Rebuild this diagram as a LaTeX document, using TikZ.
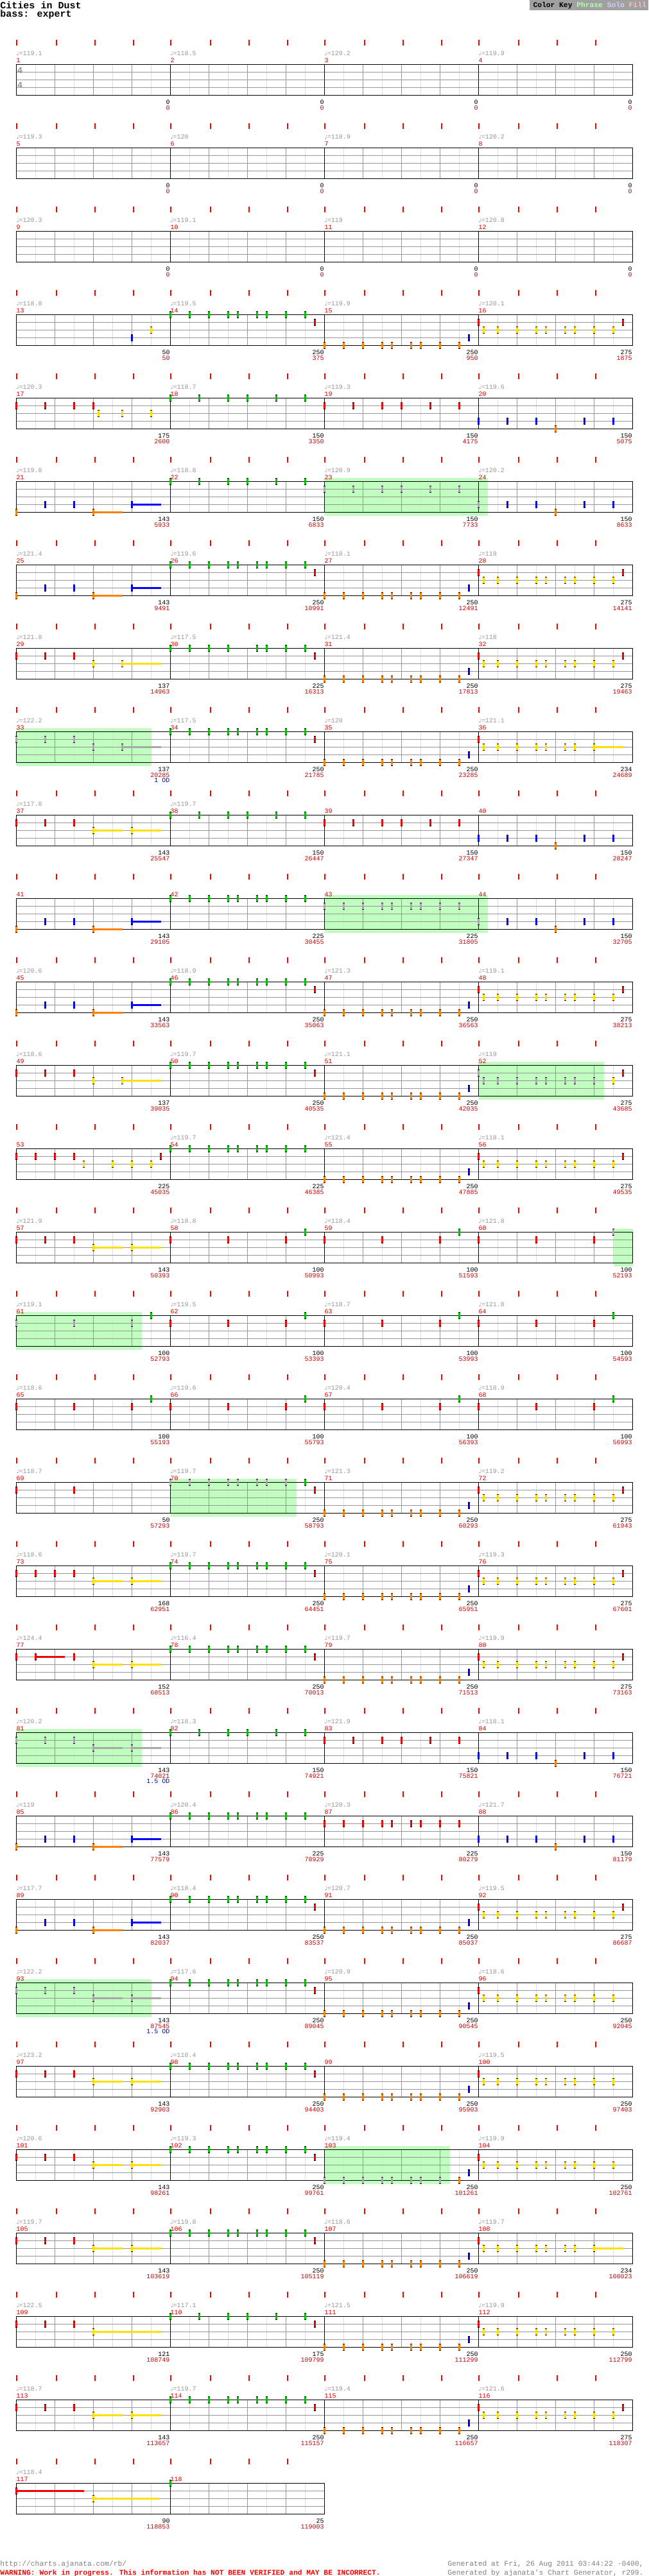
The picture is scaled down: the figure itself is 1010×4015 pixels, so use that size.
\documentclass[tikz,border=0pt]{standalone}
\usepackage{fontspec}
\newfontfamily\cmono{Liberation Mono}
\newfontfamily\csym{DejaVu Sans}
\definecolor{cG}{RGB}{0,192,0}
\definecolor{cR}{RGB}{240,0,0}
\definecolor{cY}{RGB}{255,224,0}
\definecolor{cB}{RGB}{0,0,255}
\definecolor{cO}{RGB}{255,128,0}
\definecolor{cX}{RGB}{168,168,168}
\definecolor{cSP}{RGB}{192,255,192}
\definecolor{cTempo}{RGB}{150,150,150}
\definecolor{cNum}{RGB}{204,0,0}
\definecolor{cTick}{RGB}{255,0,0}
\definecolor{cLine}{RGB}{150,150,150}
\definecolor{cLight}{RGB}{222,222,222}
\definecolor{cFoot}{RGB}{128,128,128}
\definecolor{cKey}{RGB}{160,160,160}
\definecolor{cPhrase}{RGB}{176,255,176}
\definecolor{cSolo}{RGB}{208,208,255}
\definecolor{cFill}{RGB}{255,192,192}
\definecolor{cOD}{RGB}{0,0,220}
\def\PA{0,2,4,6,7,9,10,12,14}
\def\PAp{0,3,6,8,11,14}
\def\PC{0.5,2,4,6,7,9,10,12,14}
\newcommand\NOTE[4]{%
  \pgfmathtruncatemacro\rowk{(#1-1)/4}%
  \pgfmathtruncatemacro\colc{#1-1-4*\rowk}%
  \edef\tmplist{#3}%
  \foreach \s in \tmplist {%
    \pgfmathsetmacro\rX{25.5+240*\colc+15*\s}%
    \pgfmathsetmacro\rY{100.5+130*\rowk+12*#2}%
    \fill[black] (\rX-1.5,\rY-5.5) rectangle (\rX+1.5,\rY+5.5);%
    \fill[#4] (\rX-1.5,\rY-4.5) rectangle (\rX+1.5,\rY+4.5);%
  }%
}
\newcommand\SUS[5]{%
  \pgfmathtruncatemacro\rowk{(#1-1)/4}%
  \pgfmathtruncatemacro\colc{#1-1-4*\rowk}%
  \pgfmathsetmacro\rX{25.5+240*\colc+15*#3}%
  \pgfmathsetmacro\rXe{25.5+240*\colc+15*#4}%
  \pgfmathsetmacro\rY{100.5+130*\rowk+12*#2}%
  \fill[#5] (\rX,\rY-1.5) rectangle (\rXe,\rY+1.5);%
  \fill[black] (\rX-1.5,\rY-5.5) rectangle (\rX+1.5,\rY+5.5);%
  \fill[#5] (\rX-1.5,\rY-4.5) rectangle (\rX+1.5,\rY+4.5);%
}
\newcommand\ntG[2]{\NOTE{#1}{0}{#2}{cG}}
\newcommand\ntR[2]{\NOTE{#1}{1}{#2}{cR}}
\newcommand\ntY[2]{\NOTE{#1}{2}{#2}{cY}}
\newcommand\ntB[2]{\NOTE{#1}{3}{#2}{cB}}
\newcommand\ntO[2]{\NOTE{#1}{4}{#2}{cO}}
\newcommand\ntX[3]{\NOTE{#1}{#2}{#3}{cX}}
\newcommand\patA[1]{\ntG{#1}{\PA}}
\newcommand\patAr[1]{\ntG{#1}{\PA}\ntR{#1}{15}}
\newcommand\patB[1]{\ntO{#1}{\PA}\ntB{#1}{15}}
\newcommand\patC[1]{\ntR{#1}{0}\ntY{#1}{\PC}}
\newcommand\patCr[1]{\ntR{#1}{0,15}\ntY{#1}{\PC}}
\newcommand\patD[1]{\ntO{#1}{0}\ntB{#1}{3,6}\SUS{#1}{4}{8}{11}{cO}\SUS{#1}{3}{12}{15}{cB}}
\newcommand\patE[1]{\ntB{#1}{0,3,6,11,14}\ntO{#1}{8}}
\newcommand\patF[1]{\ntR{#1}{0,3,6}\SUS{#1}{2}{8}{11}{cY}\SUS{#1}{2}{12}{15}{cY}}
\newcommand\patG[1]{\ntR{#1}{0,6,12}\ntG{#1}{14}}
\newcommand\patH[1]{\ntR{#1}{0,3,6}\ntY{#1}{8}\SUS{#1}{2}{11}{15}{cY}}
\newcommand\patI[1]{\ntR{#1}{0}\ntY{#1}{0.5,2,4,6,7,9,10}\SUS{#1}{2}{12}{15}{cY}}
\newcommand\STAFF[2]{%
  \pgfmathtruncatemacro\nb{4*#2-1}%
  \pgfmathsetmacro\rW{240*#2}%
  \foreach \i in {0,...,\nb} {\draw[cLight] ({25.5+60*\i+30},#1) -- ++(0,48);}%
  \foreach \i in {1,...,\nb} {\draw[cLine] ({25.5+60*\i},#1) -- ++(0,48);}%
  \foreach \j in {1,2,3} {\draw[cLine] (25.5,{#1+0.5+12*\j}) -- ++(\rW,0);}%
  \pgfmathtruncatemacro\nm{#2-1}%
  \foreach \i in {1,...,\nm} {\draw[black] ({25.5+240*\i},#1) -- ++(0,48);}%
  \draw[black] (25.5,#1+0.5) rectangle (25.5+\rW,#1+48.5);%
}
\newcommand\TICKS[2]{%
  \pgfmathtruncatemacro\nm{#2-1}%
  \foreach \j in {0,...,\nm}{\foreach \o in {0,62.7,122.7,182.7}{\fill[cTick] ({24.5+240*\j+\o},#1-38) rectangle ++(2,9);}}%
}
\newcommand\SPF[3]{\pgfmathsetmacro\rT{100+130*#1}\fill[cSP] (#2,\rT-5) rectangle (#3,\rT+53.5);}
\newcommand\ML[4]{%
  \pgfmathtruncatemacro\rowk{(#1-1)/4}%
  \pgfmathtruncatemacro\colc{#1-1-4*\rowk}%
  \pgfmathsetmacro\rX{25+240*\colc}%
  \pgfmathsetmacro\rT{100+130*\rowk}%
  \ifx\relax#2\relax\else
    \node[tempo] (tp#1) at (\rX,\rT-13.5) {{\csym\fontsize{9}{9}\selectfont ♩}=#2};%
  \fi
  \node[mnum] (mn#1) at (\rX,\rT-3) {#1};%
  \node[scoreA] (sa#1) at (\rX+240,\rT+62) {#3};%
  \node[scoreB] (sb#1) at (\rX+240,\rT+71) {#4};%
}
\begin{document}
\begin{tikzpicture}[x=1pt,y=-1pt,line width=1pt,
  tempo/.style={anchor=base west,inner sep=0pt,text=cTempo,font=\cmono\fontsize{10}{10}\selectfont},
  mnum/.style={anchor=base west,inner sep=0pt,text=cNum,font=\cmono\fontsize{10}{10}\selectfont},
  scoreA/.style={anchor=base east,inner sep=0pt,text=black,font=\cmono\fontsize{10}{10}\selectfont},
  scoreB/.style={anchor=base east,inner sep=0pt,text=cNum,font=\cmono\fontsize{10}{10}\selectfont},
  od/.style={anchor=base east,inner sep=0pt,text=cOD,font=\cmono\fontsize{10}{10}\selectfont},
  foot/.style={inner sep=0pt,text=cFoot,font=\cmono\fontsize{11.3}{12}\selectfont}]
\useasboundingbox (0,0) rectangle (1010,4015);
\fill[white] (0,0) rectangle (1010,4015);
% header
\node[anchor=base west,inner sep=0pt,font=\cmono\bfseries\fontsize{15}{15}\selectfont] (title) at (0,13) {Cities in Dust};
\node[anchor=base west,inner sep=0pt,font=\cmono\bfseries\fontsize{15}{15}\selectfont] (sub) at (0,27) {bass: expert};
\fill[cKey] (825,0) rectangle (1010,16);
\node[anchor=base west,inner sep=0pt,font=\cmono\bfseries\fontsize{11.3}{12}\selectfont] (key) at (830,11.7) {Color Key \textcolor{cPhrase}{Phrase} \textcolor{cSolo}{Solo} \textcolor{cFill}{Fill}};
% star power areas
\SPF{5}{505}{760}
\SPF{8}{25}{236}
\SPF{10}{505}{760}
\SPF{12}{745}{940.6}
\SPF{14}{955.5}{985.5}
\SPF{15}{25}{221.4}
\SPF{17}{265}{461.6}
\SPF{20}{25}{221.4}
\SPF{23}{25}{236}
\SPF{25}{505}{701}
% staffs and beat ticks
\foreach \k in {0,...,28}{\pgfmathsetmacro\rT{100+130*\k}\STAFF{\rT}{4}\TICKS{\rT}{4}}
\STAFF{3870}{2}\TICKS{3870}{2}
\node[inner sep=0pt,text=cTempo,font=\cmono\bfseries\fontsize{14}{14}\selectfont] (ts1) at (31,110) {4};
\node[inner sep=0pt,text=cTempo,font=\cmono\bfseries\fontsize{14}{14}\selectfont] (ts2) at (31,133) {4};
% notes
\ntB{13}{12}\ntY{13}{14}
\patAr{14}\patB{15}\patCr{16}
\ntR{17}{0,3,6,8}\ntY{17}{8.5,11,14}
\ntG{18}{\PAp}\ntR{19}{\PAp}\patE{20}
\patD{21}\ntG{22}{\PAp}\ntX{23}{1}{\PAp}\ntX{24}{3}{0}\ntB{24}{3,6,11,14}\ntO{24}{8}
\patD{25}\patAr{26}\patB{27}\patCr{28}
\patH{29}\ntG{30}{0,2,4,6,9,10,12,14}\ntR{30}{15}\patB{31}\patCr{32}
\ntX{33}{1}{0,3,6}\ntX{33}{2}{8}\SUS{33}{2}{11}{15}{cX}
\patAr{34}\patB{35}\patI{36}
\patF{37}\ntG{38}{\PAp}\ntR{39}{\PAp}\patE{40}
\patD{41}\patA{42}\ntX{43}{1}{\PA}\ntX{44}{3}{0}\ntB{44}{3,6,11,14}\ntO{44}{8}
\patD{45}\patAr{46}\patB{47}\patCr{48}
\patH{49}\patAr{50}\patB{51}
\ntX{52}{1}{0}\ntX{52}{2}{0.5,2,4,6,7,9,10,12}\ntY{52}{14}\ntR{52}{15}
\ntR{53}{0,2,4,6,15}\ntY{53}{7,10,12,14}\patA{54}\patB{55}\patCr{56}
\patF{57}\patG{58}\patG{59}\ntR{60}{0,6,12}\ntX{60}{0}{14}
\ntX{61}{1}{0,6,12}\ntG{61}{14}\patG{62}\patG{63}\patG{64}
\patG{65}\patG{66}\patG{67}\patG{68}
\ntR{69}{0,6}\ntX{70}{0}{0,2,4,6,7,9,10,12}\ntG{70}{14}\ntR{70}{15}\patB{71}\patCr{72}
\ntR{73}{0,2,4,6}\SUS{73}{2}{8}{11}{cY}\SUS{73}{2}{12}{15}{cY}\patAr{74}\patB{75}\patCr{76}
\ntR{77}{0,6}\SUS{77}{1}{2}{5}{cR}\SUS{77}{2}{8}{11}{cY}\SUS{77}{2}{12}{15}{cY}\patAr{78}\patB{79}\patCr{80}
\ntX{81}{1}{0,3,6}\SUS{81}{2}{8}{11}{cX}\SUS{81}{2}{12}{15}{cX}\ntG{82}{\PAp}\ntR{83}{\PAp}\patE{84}
\patD{85}\patA{86}\ntR{87}{\PA}\patE{88}
\patD{89}\patAr{90}\patB{91}\patCr{92}
\ntX{93}{1}{0,3,6}\SUS{93}{2}{8}{11}{cX}\SUS{93}{2}{12}{15}{cX}\patAr{94}\patB{95}\patC{96}
\patF{97}\patAr{98}\patB{99}\patC{100}
\patF{101}\patAr{102}\ntX{103}{4}{0,2,4,6,7,9,10,12}\ntO{103}{14}\ntB{103}{15}\patC{104}
\patF{105}\patAr{106}\patB{107}\patI{108}
\ntR{109}{0,3,6}\SUS{109}{2}{8}{15}{cY}\ntG{110}{\PAp}\ntR{110}{15}\patB{111}\patC{112}
\patF{113}\patAr{114}\patB{115}\patCr{116}
\SUS{117}{1}{0}{7}{cR}\SUS{117}{2}{8}{14.8}{cY}\ntG{118}{0}
% labels
\ML{1}{119.1}{0}{0}\ML{2}{118.5}{0}{0}\ML{3}{120.2}{0}{0}\ML{4}{119.9}{0}{0}
\ML{5}{119.3}{0}{0}\ML{6}{120}{0}{0}\ML{7}{118.9}{0}{0}\ML{8}{120.2}{0}{0}
\ML{9}{120.3}{0}{0}\ML{10}{119.1}{0}{0}\ML{11}{119}{0}{0}\ML{12}{120.8}{0}{0}
\ML{13}{118.8}{50}{50}\ML{14}{119.5}{250}{375}\ML{15}{119.9}{250}{950}\ML{16}{120.1}{275}{1875}
\ML{17}{120.3}{175}{2600}\ML{18}{118.7}{150}{3350}\ML{19}{119.3}{150}{4175}\ML{20}{119.6}{150}{5075}
\ML{21}{119.8}{143}{5933}\ML{22}{118.8}{150}{6833}\ML{23}{120.9}{150}{7733}\ML{24}{120.2}{150}{8633}
\ML{25}{121.4}{143}{9491}\ML{26}{119.6}{250}{10991}\ML{27}{118.1}{250}{12491}\ML{28}{119}{275}{14141}
\ML{29}{121.8}{137}{14963}\ML{30}{117.5}{225}{16313}\ML{31}{121.4}{250}{17813}\ML{32}{118}{275}{19463}
\ML{33}{122.2}{137}{20285}\ML{34}{117.5}{250}{21785}\ML{35}{120}{250}{23285}\ML{36}{121.1}{234}{24689}
\ML{37}{117.8}{143}{25547}\ML{38}{119.7}{150}{26447}\ML{39}{}{150}{27347}\ML{40}{}{150}{28247}
\ML{41}{}{143}{29105}\ML{42}{}{225}{30455}\ML{43}{}{225}{31805}\ML{44}{}{150}{32705}
\ML{45}{120.6}{143}{33563}\ML{46}{118.9}{250}{35063}\ML{47}{121.3}{250}{36563}\ML{48}{119.1}{275}{38213}
\ML{49}{118.6}{137}{39035}\ML{50}{119.7}{250}{40535}\ML{51}{121.1}{250}{42035}\ML{52}{119}{275}{43685}
\ML{53}{}{225}{45035}\ML{54}{119.7}{225}{46385}\ML{55}{121.4}{250}{47885}\ML{56}{118.1}{275}{49535}
\ML{57}{121.9}{143}{50393}\ML{58}{118.8}{100}{50993}\ML{59}{118.4}{100}{51593}\ML{60}{121.8}{100}{52193}
\ML{61}{119.1}{100}{52793}\ML{62}{119.5}{100}{53393}\ML{63}{118.7}{100}{53993}\ML{64}{121.8}{100}{54593}
\ML{65}{118.6}{100}{55193}\ML{66}{119.6}{100}{55793}\ML{67}{120.4}{100}{56393}\ML{68}{118.9}{100}{56993}
\ML{69}{118.7}{50}{57293}\ML{70}{119.7}{250}{58793}\ML{71}{121.3}{250}{60293}\ML{72}{119.2}{275}{61943}
\ML{73}{118.6}{168}{62951}\ML{74}{119.7}{250}{64451}\ML{75}{120.1}{250}{65951}\ML{76}{119.3}{275}{67601}
\ML{77}{124.4}{152}{68513}\ML{78}{116.4}{250}{70013}\ML{79}{119.7}{250}{71513}\ML{80}{119.9}{275}{73163}
\ML{81}{120.2}{143}{74021}\ML{82}{118.3}{150}{74921}\ML{83}{121.9}{150}{75821}\ML{84}{118.1}{150}{76721}
\ML{85}{119}{143}{77579}\ML{86}{120.4}{225}{78929}\ML{87}{120.3}{225}{80279}\ML{88}{121.7}{150}{81179}
\ML{89}{117.7}{143}{82037}\ML{90}{118.4}{250}{83537}\ML{91}{120.7}{250}{85037}\ML{92}{119.5}{275}{86687}
\ML{93}{122.2}{143}{87545}\ML{94}{117.6}{250}{89045}\ML{95}{120.9}{250}{90545}\ML{96}{118.6}{250}{92045}
\ML{97}{123.2}{143}{92903}\ML{98}{118.4}{250}{94403}\ML{99}{}{250}{95903}\ML{100}{119.5}{250}{97403}
\ML{101}{120.6}{143}{98261}\ML{102}{119.3}{250}{99761}\ML{103}{119.4}{250}{101261}\ML{104}{119.9}{250}{102761}
\ML{105}{119.7}{143}{103619}\ML{106}{119.8}{250}{105119}\ML{107}{118.6}{250}{106619}\ML{108}{119.7}{234}{108023}
\ML{109}{122.5}{121}{108749}\ML{110}{117.1}{175}{109799}\ML{111}{121.5}{250}{111299}\ML{112}{119.9}{250}{112799}
\ML{113}{118.7}{143}{113657}\ML{114}{119.7}{250}{115157}\ML{115}{119.4}{250}{116657}\ML{116}{121.6}{275}{118307}
\ML{117}{118.4}{90}{118853}\ML{118}{}{25}{119003}
\node[od] (od33) at (265,1219.5) {1 OD};
\node[od] (od81) at (265,2779.5) {1.5 OD};
\node[od] (od93) at (265,3169.5) {1.5 OD};
% footer
\node[foot,anchor=base west] (url) at (0,3999) {http://charts.ajanata.com/rb/};
\node[foot,anchor=base west,text=cTick,font=\cmono\bfseries\fontsize{11.3}{12}\selectfont] (warn) at (0,4013) {WARNING: Work in progress. This information has NOT BEEN VERIFIED and MAY BE INCORRECT.};
\node[foot,anchor=base east] (gen1) at (1003,3999) {Generated at Fri, 26 Aug 2011 03:44:22 -0400,};
\node[foot,anchor=base east] (gen2) at (1003,4013) {Generated by ajanata's Chart Generator, r299.};
\end{tikzpicture}
\end{document}
